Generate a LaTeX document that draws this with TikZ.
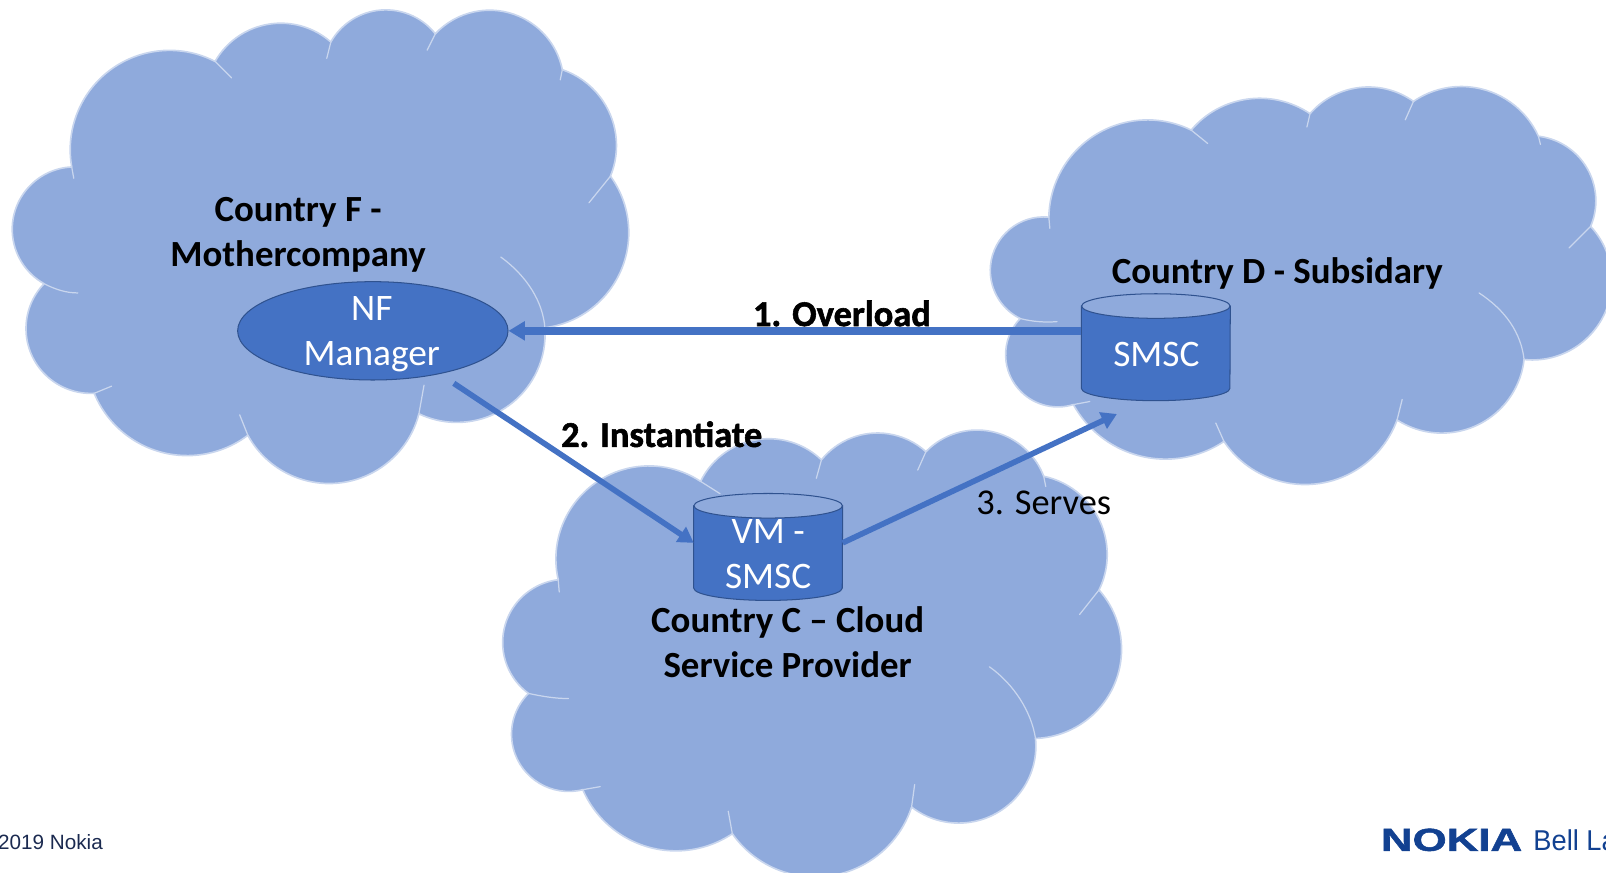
\documentclass[tikz,border=0pt]{standalone}
\usepackage{fontspec}
\setmainfont{Carlito}
\newfontfamily\arialf{Liberation Sans}
\newfontfamily\arialheavy[BoldFeatures={FakeBold=1.5}]{Liberation Sans}
\newfontfamily\heavyf[BoldFeatures={FakeBold=1.6}]{Carlito}
\usetikzlibrary{shapes.geometric,arrows.meta,calc}
\definecolor{cloudc}{HTML}{8FAADC}
\definecolor{boxc}{HTML}{4472C4}
\definecolor{edgec}{HTML}{2F528F}
\definecolor{haloc}{HTML}{C9D6EE}
\definecolor{footc}{HTML}{1B2A50}
\definecolor{nokiac}{HTML}{124191}
% one cloud lobe: circular arc from (#1,#2) through (#3,#4) to (#5,#6), appended to \cloudpath
\newcommand\addlobe[6]{%
  \pgfmathsetmacro\lobBx{(#3-#1)/100}%
  \pgfmathsetmacro\lobBy{(#4-#2)/100}%
  \pgfmathsetmacro\lobCx{(#5-#1)/100}%
  \pgfmathsetmacro\lobCy{(#6-#2)/100}%
  \pgfmathsetmacro\lobBB{\lobBx*\lobBx+\lobBy*\lobBy}%
  \pgfmathsetmacro\lobCC{\lobCx*\lobCx+\lobCy*\lobCy}%
  \pgfmathsetmacro\lobD{2*(\lobBx*\lobCy-\lobBy*\lobCx)}%
  \pgfmathsetmacro\lobUx{(\lobCy*\lobBB-\lobBy*\lobCC)/\lobD}%
  \pgfmathsetmacro\lobUy{(\lobBx*\lobCC-\lobCx*\lobBB)/\lobD}%
  \pgfmathsetmacro\lobR{100*sqrt(\lobUx*\lobUx+\lobUy*\lobUy)}%
  \pgfmathsetmacro\lobTa{atan2(-\lobUy,-\lobUx)}%
  \pgfmathsetmacro\lobTb{atan2(\lobCy-\lobUy,\lobCx-\lobUx)}%
  \pgfmathsetmacro\lobDm{mod(\lobTb-\lobTa+720,360)}%
  \pgfmathsetmacro\lobDl{\lobD>0 ? \lobDm : \lobDm-360}%
  \xdef\cloudpath{\cloudpath arc[start angle=\lobTa,delta angle=\lobDl,radius=\lobR] -- (#5,#6) }%
}
% cylinder drawn over a named invisible rectangle node
\newcommand\drumart[1]{%
  \draw[fill=boxc,draw=edgec,line width=1pt] ([yshift=-12pt]#1.north west) -- ([yshift=12pt]#1.south west)
    arc[start angle=180,end angle=360,x radius=72.5pt,y radius=12pt] -- ([yshift=-12pt]#1.north east) -- cycle;
  \draw[fill=cloudc,draw=edgec,line width=1pt] ([yshift=-12pt]#1.north) ellipse[x radius=72.5pt,y radius=12pt];
}
\tikzset{
  cloudshape/.style={fill=cloudc,draw=haloc,line width=1.6pt,line join=round},
  cloudline/.style={draw=haloc,line width=1.2pt,line cap=round},
  title/.style={font=\fontsize{36}{44}\selectfont\bfseries,align=center,text=black,inner sep=0pt},
  inner/.style={font=\fontsize{36.5}{44}\selectfont,align=center,text=white,inner sep=0pt},
  drumbox/.style={rectangle,minimum width=145pt,minimum height=104pt,inner sep=0pt},
  linkthick/.style={draw=boxc,line width=7.5pt,-{Triangle[length=16pt,width=18pt]}},
  link/.style={draw=boxc,line width=5.5pt,-{Triangle[length=15pt,width=17pt]}},
  tag/.style={font=\heavyf\fontsize{35.5}{44}\selectfont,text=black,inner sep=0pt},
}
\begin{document}
\begin{tikzpicture}[x=1pt,y=-1pt]
\useasboundingbox (0,0) rectangle (1568,851.4);
\clip (0,0) rectangle (1568,851.4);
% Cloud F
\gdef\cloudpath{}%
\addlobe{70}{163}{12}{221}{43}{277}%
\addlobe{43}{277}{27}{335}{92}{384}%
\addlobe{92}{384}{164}{443}{242}{425}%
\addlobe{242}{425}{325}{472}{409}{404}%
\addlobe{409}{404}{510}{384}{532}{320}%
\addlobe{532}{320}{613}{240}{596}{172}%
\addlobe{596}{172}{600}{125}{549}{68}%
\addlobe{549}{68}{480}{10}{425}{33}%
\addlobe{425}{33}{370}{10}{323}{41}%
\addlobe{323}{41}{267}{23}{210}{60}%
\addlobe{210}{60}{103}{72}{70}{163}%
\path[cloudshape] (70,163) \cloudpath -- cycle;
% Cloud D
\gdef\cloudpath{}%
\addlobe{1024}{212}{967}{260}{996}{311}%
\addlobe{996}{311}{984}{361}{1048}{395}%
\addlobe{1048}{395}{1122}{447}{1195}{431}%
\addlobe{1195}{431}{1271}{473}{1364}{410}%
\addlobe{1364}{410}{1464}{400}{1488}{351}%
\addlobe{1488}{351}{1572}{290}{1553}{221}%
\addlobe{1553}{221}{1556}{180}{1502}{133}%
\addlobe{1502}{133}{1436}{85}{1380}{99}%
\addlobe{1380}{99}{1333}{85}{1279}{111}%
\addlobe{1279}{111}{1227}{96}{1163}{127}%
\addlobe{1163}{127}{1058}{140}{1024}{212}%
\path[cloudshape] (1024,212) \cloudpath -- cycle;
% Cloud C
\gdef\cloudpath{}%
\addlobe{545}{566}{592}{465}{684}{470}%
\addlobe{684}{470}{735}{430}{802}{449}%
\addlobe{802}{449}{851}{423}{904}{441}%
\addlobe{904}{441}{958}{420}{1019}{465}%
\addlobe{1019}{465}{1078}{520}{1073}{576}%
\addlobe{1073}{576}{1095}{635}{1011}{721}%
\addlobe{1011}{721}{962}{799}{890}{788}%
\addlobe{890}{788}{802}{856}{715}{814}%
\addlobe{715}{814}{633}{827}{569}{771}%
\addlobe{569}{771}{504}{739}{516}{677}%
\addlobe{516}{677}{491}{622}{545}{566}%
\path[cloudshape] (545,566) \cloudpath -- cycle;
% Inner cloud lines
\draw[cloudline] (210,60) -- (226,76);
\draw[cloudline] (323,41) -- (319,57);
\draw[cloudline] (425,33) -- (417,49);
\draw[cloudline] (549,68) -- (547,78);
\draw[cloudline] (596,172) -- (575,198);
\draw[cloudline] (70,163) -- (72,174);
\draw[cloudline] (43,277) .. controls (55,283) and (65,286) .. (76,286);
\draw[cloudline] (92,384) -- (109,377);
\draw[cloudline] (242,425) -- (234,405);
\draw[cloudline] (409,404) -- (414,376);
\draw[cloudline] (489,251) .. controls (515,270) and (530,295) .. (532,320);
\draw[cloudline] (1163,127) -- (1179,140);
\draw[cloudline] (1279,111) -- (1276,124);
\draw[cloudline] (1380,99) -- (1372,117);
\draw[cloudline] (1502,133) -- (1504,141);
\draw[cloudline] (1553,221) -- (1532,242);
\draw[cloudline] (1024,212) -- (1025,223);
\draw[cloudline] (996,311) .. controls (1008,314) and (1020,315) .. (1032,314);
\draw[cloudline] (1048,395) -- (1064,392);
\draw[cloudline] (1195,431) -- (1187,413);
\draw[cloudline] (1364,410) -- (1369,390);
\draw[cloudline] (1444,286) .. controls (1470,303) and (1485,325) .. (1488,351);
\draw[cloudline] (545,566) -- (546,578);
\draw[cloudline] (684,470) -- (703,482);
\draw[cloudline] (802,449) -- (797,467);
\draw[cloudline] (904,441) -- (896,459);
\draw[cloudline] (1019,465) -- (1021,475);
\draw[cloudline] (1073,576) -- (1054,600);
\draw[cloudline] (516,677) .. controls (530,680) and (542,682) .. (555,682);
\draw[cloudline] (569,771) -- (586,768);
\draw[cloudline] (715,814) -- (711,792);
\draw[cloudline] (890,788) -- (893,766);
\draw[cloudline] (966,651) .. controls (990,668) and (1007,695) .. (1011,721);
% Shapes
\node[ellipse,fill=boxc,draw=edgec,line width=1pt,minimum width=264pt,minimum height=96pt,inner sep=0pt] (nf) at (364,323) {};
\node[inner] (nflabel) at (363,326) {NF\\Manager};
\node[drumbox] (smsc) at (1128.5,339) {};
\drumart{smsc}
\node[inner] (smsclabel) at (1129,346) {SMSC};
\node[drumbox] (vm) at (750,534) {};
\drumart{vm}
\node[inner] (vmlabel) at (750,541) {VM -\\SMSC};
% Connector ends
\coordinate (end3) at ([shift={(-38,13)}]smsc.south);
\coordinate (start2) at ([shift={(14,9)}]nf.-33);
\coordinate (src1) at ([yshift=16pt]smsc.west);
\coordinate (end2) at ([yshift=4pt]vm.west);
\coordinate (src3) at ([yshift=4pt]vm.east);
% Connectors
\draw[linkthick] (src1) -- (nf.east);
\draw[link] (start2) -- (end2);
\draw[link] (src3) -- (end3);
% Titles
\node[title] (tf) at (291,229) {Country F -\\Mothercompany};
\node[title] (td) at (1247,267) {Country D - Subsidary};
\node[title] (tc) at (769,627) {Country C – Cloud\\Service Provider};
\node[tag,font=\heavyf\bfseries\fontsize{35.5}{44}\selectfont] (l1) at (822,306) {1. Overload};
\node[tag,font=\heavyf\bfseries\fontsize{35.5}{44}\selectfont] (l2) at (646,424) {2. Instantiate};
\node[tag] (l3) at (1019,491) {3. Serves};
% Footer
\node[anchor=west,inner sep=0pt,text=footc,font=\arialf\fontsize{20.2}{24}\selectfont] (copy) at (-2,822) {2019 Nokia};
\node[anchor=west,inner sep=0pt,text=nokiac,font=\arialheavy\bfseries\fontsize{31}{30}\selectfont,xscale=1.38] (nokia) at (1348,820) {NOKIA};
\node[anchor=west,inner sep=0pt,text=nokiac,font=\arialf\fontsize{28}{30}\selectfont,xscale=.95] (bell) at (1497,820) {Bell La};
\end{tikzpicture}
\end{document}
